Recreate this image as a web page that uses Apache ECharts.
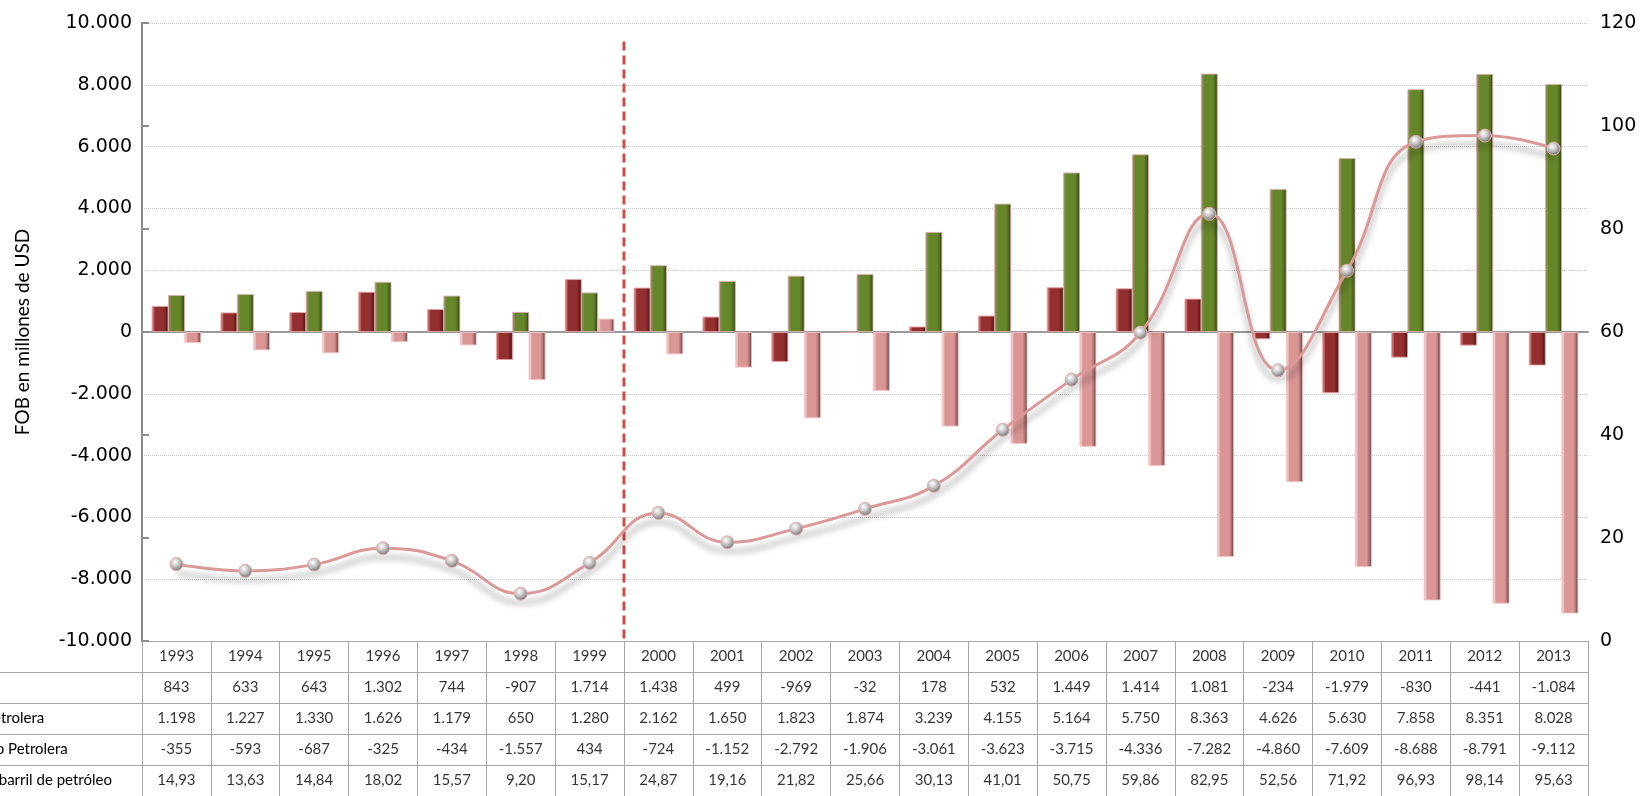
<!DOCTYPE html>
<html>
<head>
<meta charset="utf-8">
<script src="https://cdn.jsdelivr.net/npm/echarts@6/dist/echarts.min.js"></script>
<style>
  html, body { margin: 0; padding: 0; background: #fff; }
  #chart { width: 1649px; height: 796px; }
</style>
</head>
<body>
<div id="chart"></div>
<script>
// datos
const years = ['1993', '1994', '1995', '1996', '1997', '1998', '1999', '2000', '2001', '2002', '2003',
  '2004', '2005', '2006', '2007', '2008', '2009', '2010', '2011', '2012', '2013'];
const balanzaTotal = [843, 633, 643, 1302, 744, -907, 1714, 1438, 499, -969, -32,
  178, 532, 1449, 1414, 1081, -234, -1979, -830, -441, -1084];
const balanzaPetrolera = [1198, 1227, 1330, 1626, 1179, 650, 1280, 2162, 1650, 1823, 1874,
  3239, 4155, 5164, 5750, 8363, 4626, 5630, 7858, 8351, 8028];
const balanzaNoPetrolera = [-355, -593, -687, -325, -434, -1557, 434, -724, -1152, -2792, -1906,
  -3061, -3623, -3715, -4336, -7282, -4860, -7609, -8688, -8791, -9112];
const precioBarril = [14.93, 13.63, 14.84, 18.02, 15.57, 9.20, 15.17, 24.87, 19.16, 21.82, 25.66,
  30.13, 41.01, 50.75, 59.86, 82.95, 52.56, 71.92, 96.93, 98.14, 95.63];
const rowLabels = ['Total', 'Balanza Petrolera', 'Balanza No Petrolera', 'Precio del barril de petróleo'];
// linea divisoria entre 1999 y 2000
const divider = [[7, 9400], [7, -10000]];

// formato 1.234 / 14,93
function fmt(v, dec) {
  const neg = v < 0;
  const parts = Math.abs(v).toFixed(dec).split('.');
  const ent = parts[0].replace(/\B(?=(\d{3})+(?!\d))/g, '.');
  return (neg ? '-' : '') + ent + (parts[1] ? ',' + parts[1] : '');
}

// degradado horizontal para imitar el bisel de Excel
function bevel(edge, base, shade, dark) {
  return {
    type: 'linear', x: 0, y: 0, x2: 1, y2: 0,
    colorStops: [
      { offset: 0, color: edge },
      { offset: 0.12, color: edge },
      { offset: 0.2, color: base },
      { offset: 0.7, color: base },
      { offset: 0.82, color: shade },
      { offset: 1, color: dark },
    ],
  };
}

const tableRows = [
  years,
  balanzaTotal.map((v) => fmt(v, 0)),
  balanzaPetrolera.map((v) => fmt(v, 0)),
  balanzaNoPetrolera.map((v) => fmt(v, 0)),
  precioBarril.map((v) => fmt(v, 2)),
];
const tableCells = [];
tableRows.forEach((row, r) => {
  row.forEach((txt, c) => {
    tableCells.push({ name: txt, value: [c, r] });
  });
});

const tableFont = 'Lato, "Open Sans", sans-serif';
const lineGray = '#a6a6a6';

const chart = echarts.init(document.getElementById('chart'));
const option = {
  animation: false,
  grid: [
    { left: 142, right: 61, top: 23, bottom: 155, outerBoundsMode: 'none' },
    { left: 142, right: 61, top: 641, bottom: 0, outerBoundsMode: 'none' },
    { left: 0, width: 142, top: 672, bottom: 0, outerBoundsMode: 'none' },
  ],
  xAxis: [
    {
      type: 'category', gridIndex: 0, data: years,
      axisLine: { onZero: true, lineStyle: { color: '#999', width: 2 } },
      axisTick: { show: false }, axisLabel: { show: false },
    },
    { type: 'value', gridIndex: 0, min: 0, max: 21, show: false },
    {
      type: 'category', gridIndex: 1, data: years,
      axisLine: { show: false }, axisTick: { show: false }, axisLabel: { show: false },
      splitLine: { show: true, lineStyle: { color: lineGray, width: 1 } },
    },
    { type: 'value', gridIndex: 2, show: false },
  ],
  yAxis: [
    {
      type: 'value', gridIndex: 0, min: -10000, max: 10000, interval: 2000,
      name: 'FOB en millones de USD', nameLocation: 'middle', nameGap: 110, nameRotate: 90,
      nameTextStyle: { fontFamily: tableFont, fontSize: 19, color: '#000' },
      axisLine: { show: true, onZero: false, lineStyle: { color: '#6f6f6f', width: 2 } },
      axisTick: { show: false },
      axisLabel: {
        fontFamily: '"DejaVu Sans", Verdana, sans-serif', fontSize: 19, color: '#000', margin: 10,
        formatter: (v) => fmt(v, 0),
      },
      splitLine: { show: true, lineStyle: { color: '#c8c8c8', type: 'dotted', width: 1 } },
    },
    {
      type: 'value', gridIndex: 0, min: 0, max: 120, interval: 20, position: 'right',
      axisLine: { show: true, lineStyle: { color: '#8c8c8c', width: 2 } },
      axisTick: { show: true, length: 7, lineStyle: { color: '#8c8c8c', width: 2 } },
      axisLabel: { fontFamily: '"DejaVu Sans", Verdana, sans-serif', fontSize: 19, color: '#000', margin: 12 },
      splitLine: { show: false },
    },
    {
      type: 'category', gridIndex: 1, inverse: true, data: ['0', '1', '2', '3', '4'],
      axisLine: { show: false }, axisTick: { show: false }, axisLabel: { show: false },
      splitLine: { show: true, lineStyle: { color: lineGray, width: 1 } },
    },
    {
      type: 'category', gridIndex: 2, inverse: true, data: rowLabels,
      axisLine: { show: false }, axisTick: { show: false },
      axisLabel: { align: 'left', margin: 70, fontFamily: tableFont, fontSize: 15, color: '#000' },
      splitLine: { show: true, lineStyle: { color: lineGray, width: 1 } },
    },
  ],
  series: [
    {
      name: 'Balanza Total', type: 'bar', xAxisIndex: 0, yAxisIndex: 0,
      data: balanzaTotal, barWidth: 17, barGap: '-4%',
      itemStyle: {
        color: bevel('#c06a6a', '#93302f', '#7a2424', '#3a0f0f'),
        borderColor: 'rgba(230,160,160,0.9)', borderWidth: 1,
      },
    },
    {
      name: 'Balanza Petrolera', type: 'bar', xAxisIndex: 0, yAxisIndex: 0,
      data: balanzaPetrolera, barWidth: 17, barGap: '-4%',
      itemStyle: {
        color: bevel('#8a8a55', '#66862a', '#55721f', '#2a2a18'),
        borderColor: 'rgba(220,175,170,0.9)', borderWidth: 1,
      },
    },
    {
      name: 'Balanza No Petrolera', type: 'bar', xAxisIndex: 0, yAxisIndex: 0,
      data: balanzaNoPetrolera, barWidth: 17, barGap: '-4%',
      itemStyle: {
        color: bevel('#f0c2c1', '#d99695', '#b87878', '#4d3030'),
        borderColor: 'rgba(240,195,195,0.9)', borderWidth: 1,
      },
    },
    {
      name: 'Precio del barril de petróleo', type: 'line', xAxisIndex: 0, yAxisIndex: 1,
      data: precioBarril, smooth: 0.45, z: 6,
      symbol: 'circle', symbolSize: 13,
      lineStyle: {
        color: '#da9896', width: 3,
        shadowColor: 'rgba(0,0,0,0.35)', shadowBlur: 6, shadowOffsetY: 9,
      },
      itemStyle: {
        color: {
          type: 'radial', x: 0.4, y: 0.35, r: 0.75,
          colorStops: [
            { offset: 0, color: '#ffffff' },
            { offset: 0.4, color: '#c8c8c8' },
            { offset: 1, color: '#5a5a5a' },
          ],
        },
        borderColor: '#e3aaa9', borderWidth: 1,
      },
    },
    {
      name: 'divisor', type: 'line', xAxisIndex: 1, yAxisIndex: 0,
      data: divider, symbol: 'none', z: 4, silent: true,
      lineStyle: { color: '#d04a48', width: 3, type: [9, 5] },
    },
    {
      name: 'tabla', type: 'scatter', xAxisIndex: 2, yAxisIndex: 2,
      data: tableCells, symbolSize: 1, silent: true,
      itemStyle: { color: 'rgba(0,0,0,0)' },
      label: {
        show: true, position: 'inside', formatter: '{b}',
        fontFamily: tableFont, fontSize: 15, color: '#000',
      },
    },
  ],
};
chart.setOption(option);
</script>
</body>
</html>
